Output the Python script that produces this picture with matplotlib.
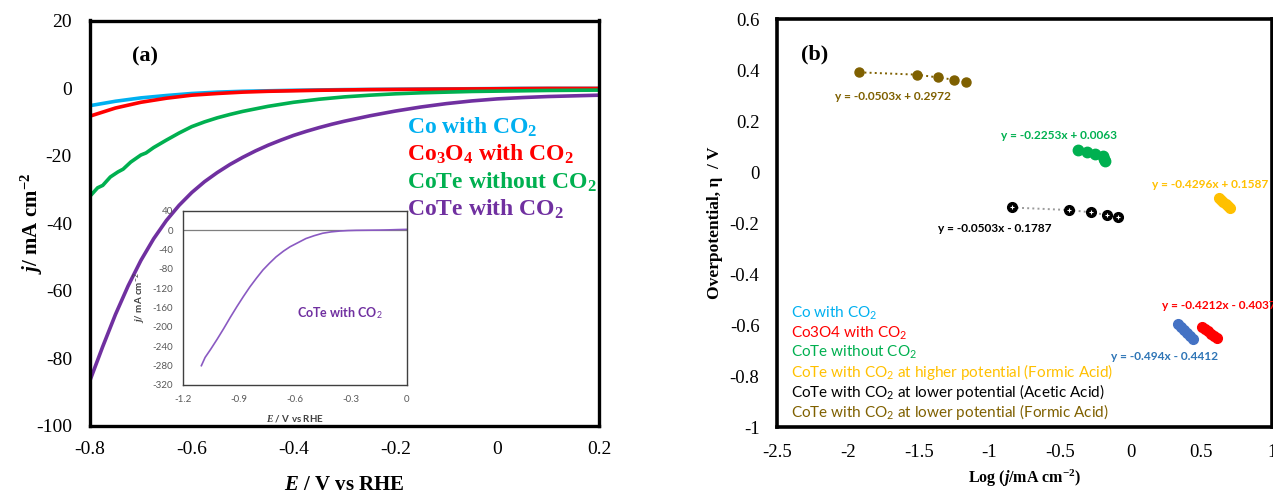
import numpy as np
import matplotlib
matplotlib.use("Agg")
import matplotlib.pyplot as plt

# ---- panel (a): LSV curves ----
E_a = [-0.80, -0.75, -0.70, -0.65, -0.60, -0.55, -0.50, -0.45, -0.40, -0.35, -0.30,
       -0.25, -0.20, -0.15, -0.10, -0.05, 0.00, 0.05, 0.10, 0.15, 0.20]
j_co = [-5.2, -3.9, -2.9, -2.2, -1.6, -1.2, -0.95, -0.8, -0.65, -0.55, -0.45,
        -0.4, -0.35, -0.3, -0.25, -0.2, -0.15, -0.1, -0.1, -0.1, -0.1]
j_co3o4 = [-8.3, -5.9, -4.2, -3.0, -2.1, -1.6, -1.2, -0.95, -0.8, -0.65, -0.55,
           -0.45, -0.4, -0.35, -0.3, -0.25, -0.2, -0.15, -0.1, -0.1, -0.1]

E_purple = [-0.800, -0.775, -0.750, -0.725, -0.700, -0.675, -0.650, -0.625, -0.600,
            -0.575, -0.550, -0.525, -0.500, -0.475, -0.450, -0.425, -0.400, -0.375,
            -0.350, -0.325, -0.300, -0.25, -0.20, -0.15, -0.10, -0.05, 0.00, 0.05,
            0.10, 0.15, 0.20]
j_purple = [-86.5, -76.5, -67.0, -58.5, -51.0, -44.6, -39.2, -34.7, -30.9,
            -27.7, -25.0, -22.6, -20.5, -18.6, -16.9, -15.4, -14.0, -12.8,
            -11.7, -10.7, -9.8, -8.2, -6.8, -5.6, -4.6, -3.8, -3.2, -2.8,
            -2.5, -2.3, -2.1]

# CoTe without CO2 is a bit jagged, so sampled finer
E_green = [-0.800, -0.785, -0.775, -0.760, -0.745, -0.735, -0.720, -0.700, -0.690,
           -0.675, -0.650, -0.625, -0.600, -0.575, -0.550, -0.525, -0.500, -0.45,
           -0.40, -0.35, -0.30, -0.25, -0.20, -0.15, -0.10, -0.05, 0.00, 0.05,
           0.10, 0.15, 0.20]
j_green = [-32.0, -29.5, -28.8, -26.3, -24.8, -24.0, -21.9, -19.8, -19.2,
           -17.6, -15.4, -13.3, -11.4, -10.0, -8.8, -7.8, -6.9, -5.4,
           -4.2, -3.3, -2.6, -2.1, -1.7, -1.4, -1.2, -1.0, -0.9, -0.8,
           -0.7, -0.65, -0.6]

# inset: CoTe with CO2 over the wider range
E_inset = [-1.10, -1.08, -1.05, -1.015, -0.98, -0.945, -0.91, -0.875, -0.84, -0.805,
           -0.77, -0.735, -0.70, -0.66, -0.625, -0.58, -0.54, -0.495, -0.45, -0.405,
           -0.36, -0.315, -0.27, -0.20, -0.15, -0.10, -0.05, 0.0]
j_inset = [-280, -263, -246, -225, -203, -180, -158, -137, -117, -99,
           -82, -68, -55, -43, -34, -25, -17, -11, -6, -3.2,
           -1.5, -0.5, 0, 0.3, 0.5, 0.9, 1.5, 2]

labels_a = ["Co with CO$_2$", "Co$_3$O$_4$ with CO$_2$",
            "CoTe without CO$_2$", "CoTe with CO$_2$"]
colors_a = ["#00B0F0", "#FF0000", "#00B050", "#7030A0"]

xticks_a = [-0.8, -0.6, -0.4, -0.2, 0, 0.2]
xticklabels_a = ["-0.8", "-0.6", "-0.4", "-0.2", "0", "0.2"]
yticks_a = [20, 0, -20, -40, -60, -80, -100]
yticklabels_a = ["20", "0", "-20", "-40", "-60", "-80", "-100"]

xticks_in = [-1.2, -0.9, -0.6, -0.3, 0]
xticklabels_in = ["-1.2", "-0.9", "-0.6", "-0.3", "0"]
yticks_in = [40, 0, -40, -80, -120, -160, -200, -240, -280, -320]
yticklabels_in = ["40", "0", "-40", "-80", "-120", "-160", "-200", "-240", "-280", "-320"]

# ---- panel (b): Tafel-type points ----
x_co = [0.337, 0.358, 0.379, 0.400, 0.421, 0.443]
y_co = [-0.595, -0.607, -0.619, -0.630, -0.642, -0.654]
x_co3o4 = [0.504, 0.525, 0.546, 0.567, 0.588, 0.610]
y_co3o4 = [-0.607, -0.616, -0.624, -0.633, -0.641, -0.650]
x_nocO2 = [-0.375, -0.312, -0.250, -0.198, -0.190, -0.179]
y_nocO2 = [0.089, 0.081, 0.072, 0.063, 0.053, 0.043]
x_high = [0.622, 0.639, 0.655, 0.672, 0.688, 0.705]
y_high = [-0.100, -0.108, -0.116, -0.123, -0.131, -0.139]
x_acetic = [-0.842, -0.436, -0.281, -0.165, -0.090]
y_acetic = [-0.138, -0.148, -0.157, -0.168, -0.177]
x_formic = [-1.921, -1.516, -1.363, -1.250, -1.169]
y_formic = [0.392, 0.383, 0.372, 0.363, 0.354]

eq_texts = ["y = -0.0503x + 0.2972", "y = -0.2253x + 0.0063", "y = -0.0503x - 0.1787",
            "y = -0.4296x + 0.1587", "y = -0.494x - 0.4412", "y = -0.4212x - 0.4037"]

labels_b = ["Co with CO$_\\mathsf{2}$", "Co3O4 with CO$_\\mathsf{2}$", "CoTe without CO$_\\mathsf{2}$",
            "CoTe with CO$_\\mathsf{2}$ at higher potential (Formic Acid)",
            "CoTe with CO$_\\mathsf{2}$ at lower potential (Acetic Acid)",
            "CoTe with CO$_\\mathsf{2}$ at lower potential (Formic Acid)"]
colors_b = ["#00B0F0", "#FF0000", "#00B050", "#FFC000", "#000000", "#7F6000"]

xticks_b = [-2.5, -2, -1.5, -1, -0.5, 0, 0.5, 1]
xticklabels_b = ["-2.5", "-2", "-1.5", "-1", "-0.5", "0", "0.5", "1"]
yticks_b = [0.6, 0.4, 0.2, 0, -0.2, -0.4, -0.6, -0.8, -1]
yticklabels_b = ["0.6", "0.4", "0.2", "0", "-0.2", "-0.4", "-0.6", "-0.8", "-1"]

serif = ["Liberation Serif", "DejaVu Serif"]
sans = ["Lato", "DejaVu Sans"]
plt.rcParams['axes.unicode_minus'] = False
plt.rcParams['mathtext.fontset'] = 'custom'
plt.rcParams['mathtext.rm'] = 'Liberation Serif:bold'
plt.rcParams['mathtext.bf'] = 'Liberation Serif:bold'
plt.rcParams['mathtext.it'] = 'Liberation Serif:italic:bold'
plt.rcParams['mathtext.sf'] = 'Lato'

W, H = 1273, 493
fig = plt.figure(figsize=(W / 100, H / 100), dpi=100)

# ================= panel (a) =================
ax = fig.add_axes([90 / W, 1 - 426 / H, 509 / W, 405.5 / H])
ax.plot(E_a, j_co, color=colors_a[0], lw=2.6)
ax.plot(E_a, j_co3o4, color=colors_a[1], lw=2.6)
ax.plot(E_green, j_green, color=colors_a[2], lw=2.6)
ax.plot(E_purple, j_purple, color=colors_a[3], lw=2.6)
ax.set_xlim(-0.8, 0.2)
ax.set_ylim(-100, 20)
ax.set_xticks(xticks_a)
ax.set_xticklabels(xticklabels_a, family=serif, fontsize=14)
ax.set_yticks(yticks_a)
ax.set_yticklabels(yticklabels_a, family=serif, fontsize=14)
ax.tick_params(length=0)
ax.tick_params(axis='x', pad=11)
ax.tick_params(axis='y', pad=13)
for s in ax.spines.values():
    s.set_linewidth(2.4)
ax.text(-0.115, 0.5, "$j$/ mA cm$^{-2}$", transform=ax.transAxes, rotation=90,
        ha='center', va='center', family=serif, fontweight='bold', fontsize=15)
ax.text(0.5, -0.145, "$E$ / V vs RHE", transform=ax.transAxes, ha='center', va='center',
        family=serif, fontweight='bold', fontsize=15)
ax.text(-0.692, 9.3, "(a)", ha='center', va='center', family=serif, fontweight='bold', fontsize=16)
for i, (lab, c) in enumerate(zip(labels_a, colors_a)):
    ax.text(-0.177, -11.7 - 8.05 * i, lab, color=c, ha='left', va='center',
            family=serif, fontweight='bold', fontsize=17)

# inset
axi = fig.add_axes([182.7 / W, 1 - 385 / H, 224 / W, 174 / H])
axi.set_facecolor('white')
axi.axhline(0, color='#7f7f7f', lw=0.9)
axi.plot(E_inset, j_inset, color='#8a5ac2', lw=1.2)
axi.set_xlim(-1.2, 0)
axi.set_ylim(-320, 40)
axi.set_xticks(xticks_in)
axi.set_xticklabels(xticklabels_in, family=sans, fontsize=7, color='#595959')
axi.set_yticks(yticks_in)
axi.set_yticklabels(yticklabels_in, family=sans, fontsize=7, color='#595959')
axi.tick_params(length=0, pad=7)
for s in axi.spines.values():
    s.set_linewidth(1.0)
    s.set_color('#404040')
axi.text(-0.19, 0.5, "$j$/ mA cm$^{\\mathsf{-2}}$", transform=axi.transAxes, rotation=90,
         ha='center', va='center', family=sans, fontweight='bold', fontsize=7, color='#404040')
axi.text(0.5, -0.19, "$E$ / V vs RHE", transform=axi.transAxes, ha='center', va='center',
         family=sans, fontweight='bold', fontsize=7, color='#404040')
axi.text(-0.357, -171, "CoTe with CO$_\\mathsf{2}$", color='#7030A0', ha='center', va='center',
         family=sans, fontweight='bold', fontsize=9)

# ================= panel (b) =================
bx = fig.add_axes([777.5 / W, 1 - 427.3 / H, 494.5 / W, 408 / H])
bx.plot(x_formic, y_formic, ':', color=colors_b[5], lw=1.4, marker='o', ms=6.5)
bx.plot(x_acetic, y_acetic, ':', color='#9a9a9a', lw=1.4)
bx.plot(x_acetic, y_acetic, 'o', color='black', ms=7)
bx.plot(x_acetic, y_acetic, '+', color='white', ms=3.5, mew=0.8)
bx.plot(x_nocO2, y_nocO2, 'o', color=colors_b[2], ms=7.5)
bx.plot(x_high, y_high, 'o', color=colors_b[3], ms=7)
bx.plot(x_co, y_co, 'o', color='#4472C4', ms=7)
bx.plot(x_co3o4, y_co3o4, 'o', color=colors_b[1], ms=7)
bx.set_xlim(-2.5, 1)
bx.set_ylim(-1, 0.6)
bx.set_xticks(xticks_b)
bx.set_xticklabels(xticklabels_b, family=serif, fontsize=13.5)
bx.set_yticks(yticks_b)
bx.set_yticklabels(yticklabels_b, family=serif, fontsize=13.5)
bx.tick_params(length=0)
bx.tick_params(axis='x', pad=12)
bx.tick_params(axis='y', pad=13)
for s in bx.spines.values():
    s.set_linewidth(2.6)
bx.text(-0.127, 0.5, "Overpotential, \u03b7  / V", transform=bx.transAxes, rotation=90,
        ha='center', va='center', family=serif, fontweight='bold', fontsize=12.5)
bx.text(0.5, -0.125, "Log ($j$/mA cm$^{\\mathrm{-2}}$)", transform=bx.transAxes,
        ha='center', va='center', family=serif, fontweight='bold', fontsize=11.5)
bx.text(-2.235, 0.461, "(b)", ha='center', va='center', family=serif, fontweight='bold', fontsize=16)

eq_pos = [(-1.682, 0.298, 'center'), (-0.509, 0.144, 'center'), (-0.962, -0.220, 'center'),
          (0.564, -0.048, 'center'), (0.238, -0.721, 'center'), (0.221, -0.522, 'left')]
eq_colors = ["#7F6000", "#00B050", "#000000", "#FFC000", "#2E75B6", "#FF0000"]
for t, (x, y, ha), c in zip(eq_texts, eq_pos, eq_colors):
    bx.text(x, y, t, color=c, ha=ha, va='center', family=sans, fontweight='bold',
            fontsize=8.6, clip_on=False)

legend_y = [-0.553, -0.630, -0.705, -0.784, -0.862, -0.941]
for lab, c, y in zip(labels_b, colors_b, legend_y):
    bx.text(-2.407, y, lab, color=c, ha='left', va='center', family=sans, fontsize=11)

fig.savefig("out.png", dpi=100)
